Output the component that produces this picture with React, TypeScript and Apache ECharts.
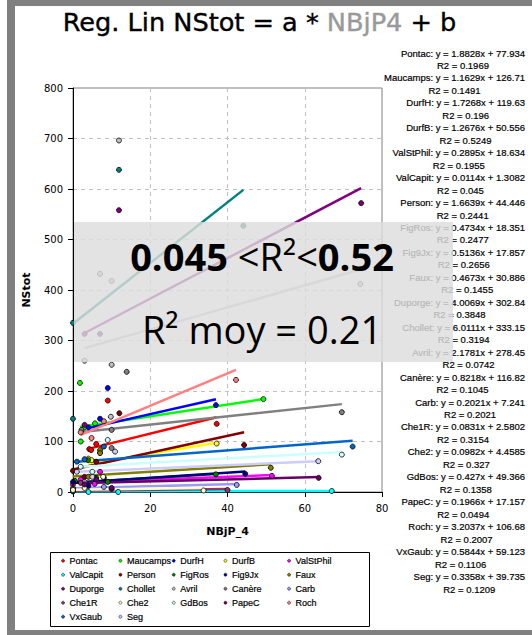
import React, { useEffect, useRef } from "react";
import * as echarts from "echarts";

// ---- data ----
const seriesNames = [
  "Pontac", "Maucamps", "DurfH", "DurfB", "ValStPhil",
  "ValCapit", "Person", "FigRos", "Fig9Jx", "Faux",
  "Duporge", "Chollet", "Avril", "Canère", "Carb",
  "Che1R", "Che2", "GdBos", "PapeC", "Roch",
  "VxGaub", "Seg",
];
const seriesColors = [
  "#ff0000", "#00ff00", "#0000ff", "#ffff00", "#ff00ff",
  "#00ffff", "#800000", "#008000", "#000080", "#808000",
  "#800080", "#008080", "#c0c0c0", "#808080", "#9999ff",
  "#993366", "#ffffcc", "#ccffff", "#660066", "#ff8080",
  "#0066cc", "#ccccff",
];
const slopes = [
  1.8828, 1.1629, 1.7268, 1.2676, 0.2895,
  0.0114, 1.6639, 0.4734, 0.5136, 0.4673,
  4.0069, 6.0111, 2.1781, 0.8218, 0.2021,
  0.0831, 0.0982, 0.427, 0.1966, 3.2037,
  0.5844, 0.3358,
];
const intercepts = [
  77.934, 126.71, 119.63, 50.556, 18.634,
  1.3082, 44.446, 18.351, 17.857, 30.886,
  302.84, 333.15, 278.45, 116.82, 7.241,
  2.5802, 4.4585, 49.366, 17.157, 106.68,
  59.123, 39.735,
];
const r2Values = [
  0.1969, 0.1491, 0.196, 0.5249, 0.1955,
  0.045, 0.2441, 0.2477, 0.2656, 0.1455,
  0.3848, 0.3194, 0.0742, 0.1045, 0.2021,
  0.3154, 0.327, 0.1358, 0.0494, 0.2007,
  0.1106, 0.1209,
];
// NBjP_4 values per series
const pointsX = [
  [4.2, 4.7, 9, 6, 37.2],
  [1.8, 2, 5.7, 3, 49.3],
  [4, 7, 9, 37],
  [4, 4.8, 7, 37.2],
  [0, 2, 5.6, 7, 51.5],
  [0, 4, 11.7, 67],
  [0, 3, 12, 6, 44.3],
  [0.5, 3.9, 6, 9, 37],
  [0, 4, 8, 44.6],
  [0, 7, 7, 4, 51.2],
  [3, 3, 7, 11.9, 74.6],
  [0, 0, 11.9, 44.1],
  [3, 7, 10, 10, 11.9, 9.8, 74.4],
  [2.2, 10, 10, 13.9, 69.6],
  [0, 3, 8, 42.4],
  [0, 2, 10, 40],
  [0, 3, 7.8, 33.8],
  [2, 9, 5, 69.6],
  [3, 10, 6, 63.6],
  [2, 4.8, 8, 42.2],
  [1, 3, 8, 72.4],
  [1, 5, 10.9, 63.5],
];
// NStot values per series
const pointsY = [
  [85, 83, 181, 95, 135],
  [216, 100, 136, 128, 184],
  [128, 145, 206, 172],
  [66, 63, 78, 96],
  [15, 25, 16, 40, 32],
  [1, 0, 0, 2],
  [42, 30, 156, 60, 93],
  [22, 63, 28, 20, 35],
  [20, 12, 28, 36],
  [8, 83, 77, 30, 48],
  [133, 313, 313, 558, 572],
  [145, 335, 638, 527],
  [260, 432, 418, 252, 696, 149, 412],
  [123, 123, 87, 238, 158],
  [6, 20, 10, 14],
  [2, 18, 6, 4],
  [4, 8, 30, 3],
  [50, 103, 40, 74],
  [15, 8, 25, 28],
  [118, 107, 140, 222],
  [60, 65, 90, 90],
  [40, 30, 80, 61],
];
const xTicks = { min: 0, max: 80, interval: 20 };
const yTicks = { min: 0, max: 800, interval: 100 };
const titleMain = "Reg. Lin NStot = a * ";
const titleVar = "NBjP4";
const titleEnd = " + b";
const r2Min = "0.045";
const r2Max = "0.52";
const r2Mean = "0.21";

const EQ_FONT = '"Liberation Sans", Arial, sans-serif';

export default function App() {
  const ref = useRef<HTMLDivElement>(null);

  useEffect(() => {
    if (!ref.current) return;
    const chart = echarts.init(ref.current, null, { renderer: "svg" });

    const canvas = document.createElement("canvas");
    const ctx = canvas.getContext("2d")!;
    ctx.font = `9.5px ${EQ_FONT}`;

    const series: any[] = [];
    seriesNames.forEach((name, i) => {
      const xs = pointsX[i];
      const x0 = Math.min(...xs);
      const x1 = Math.max(...xs);
      series.push({
        type: "line",
        name: name + " (tendance)",
        data: [
          [x0, slopes[i] * x0 + intercepts[i]],
          [x1, slopes[i] * x1 + intercepts[i]],
        ],
        symbol: "none",
        showSymbol: false,
        silent: true,
        lineStyle: { color: seriesColors[i], width: 2.5 },
        itemStyle: { color: seriesColors[i] },
        z: 2,
      });
    });
    seriesNames.forEach((name, i) => {
      series.push({
        type: "scatter",
        name,
        data: pointsX[i].map((x, j) => [x, pointsY[i][j]]),
        symbol: "circle",
        symbolSize: 5,
        itemStyle: { color: seriesColors[i], borderColor: "#000", borderWidth: 0.8, opacity: 1 },
        z: 3,
      });
    });

    const graphics: any[] = [
      // frame
      { type: "rect", shape: { x: 7, y: 0, width: 8, height: 635 }, style: { fill: "#808080" }, z: 0 },
      { type: "rect", shape: { x: 7, y: 0, width: 525, height: 6 }, style: { fill: "#808080" }, z: 0 },
      { type: "rect", shape: { x: 7, y: 630, width: 525, height: 5 }, style: { fill: "#808080" }, z: 0 },
      // title
      {
        type: "text",
        x: 259.5,
        y: 22,
        style: {
          text: `${titleMain}{g|${titleVar}}${titleEnd}`,
          fontFamily: '"DejaVu Sans", sans-serif',
          fontSize: 25.6,
          fill: "#000",
          align: "center",
          verticalAlign: "middle",
          stroke: "#000",
          lineWidth: 0.4,
          rich: {
            g: { fill: "#999999", stroke: "#999999", lineWidth: 0.4, fontFamily: '"DejaVu Sans", sans-serif', fontSize: 25.6 },
          },
        },
        z: 10,
      },
      // legend box
      {
        type: "rect",
        shape: { x: 50.5, y: 552.5, width: 319, height: 74 },
        style: { fill: "none", stroke: "#000", lineWidth: 1 },
        z: 10,
      },
    ];

    seriesNames.forEach((name, i) => {
      const eq = `${name}: y = ${slopes[i]}x + ${intercepts[i]}`;
      const r2 = `R2 = ${r2Values[i]}`;
      const w = ctx.measureText(eq).width;
      graphics.push({
        type: "text",
        x: 525 - w / 2,
        y: 53 + i * 24.93 - 6.23,
        style: {
          text: eq + "\n" + r2,
          fontFamily: EQ_FONT,
          fontSize: 9.5,
          lineHeight: 12.47,
          fill: "#000",
          stroke: "#000",
          lineWidth: 0.2,
          align: "center",
          verticalAlign: "top",
        },
        z: 10,
      });
    });

    // overlay box + texts
    graphics.push({
      type: "rect",
      shape: { x: 74, y: 222, width: 379, height: 140 },
      style: { fill: "rgba(221,221,221,0.82)" },
      z: 100,
    });
    graphics.push({
      type: "text",
      x: 262,
      y: 256,
      style: {
        text: `{b|${r2Min}}{n| <R²<}{b|${r2Max}}`,
        align: "center",
        verticalAlign: "middle",
        fontFamily: '"Open Sans", sans-serif',
        fontSize: 38,
        fill: "#000",
        rich: {
          b: { fontFamily: '"Open Sans", sans-serif', fontSize: 38, fontWeight: "bold", fill: "#000" },
          n: { fontFamily: '"Open Sans", sans-serif', fontSize: 38, fontWeight: "normal", fill: "#000" },
        },
      },
      z: 101,
    });
    graphics.push({
      type: "text",
      x: 262,
      y: 328.5,
      style: {
        text: `R² moy = ${r2Mean}`,
        align: "center",
        verticalAlign: "middle",
        fontFamily: '"Open Sans", sans-serif',
        fontSize: 38,
        fill: "#000",
      },
      z: 101,
    });

    const legendLefts = [61.3, 118.7, 172, 223.7, 287.3];
    const legends = legendLefts.map((left, c) => ({
      orient: "vertical",
      left,
      top: 553.7,
      padding: 0,
      itemGap: 0,
      itemWidth: 3,
      itemHeight: 3,
      icon: "circle",
      selectedMode: false,
      itemStyle: { borderColor: "#000", borderWidth: 0.5 },
      data: seriesNames.filter((_, i) => i % 5 === c),
      textStyle: {
        fontSize: 9,
        fontFamily: EQ_FONT,
        color: "#000",
        lineHeight: 14,
        textBorderColor: "#000",
        textBorderWidth: 0.2,
      },
    }));

    const axisFont = '"DejaVu Sans", sans-serif';
    chart.setOption({
      animation: false,
      backgroundColor: "#fff",
      grid: {
        left: 73,
        right: 150,
        top: 88,
        bottom: 143,
        show: true,
        borderColor: "#808080",
        borderWidth: 1,
        backgroundColor: "transparent",
      },
      xAxis: {
        type: "value",
        min: xTicks.min,
        max: xTicks.max,
        interval: xTicks.interval,
        name: "NBjP_4",
        nameLocation: "middle",
        nameGap: 34,
        nameTextStyle: { fontFamily: axisFont, fontSize: 11, fontWeight: "bold", color: "#000" },
        axisLine: { show: true, onZero: false, lineStyle: { color: "#000", width: 1 } },
        axisTick: { show: true, length: 5, lineStyle: { color: "#000" } },
        axisLabel: { fontFamily: axisFont, fontSize: 10, color: "#000", margin: 11 },
        splitLine: { show: true, lineStyle: { color: "#c0c0c0", type: [4, 4], width: 1 } },
      },
      yAxis: {
        type: "value",
        min: yTicks.min,
        max: yTicks.max,
        interval: yTicks.interval,
        name: "NStot",
        nameLocation: "middle",
        nameGap: 41,
        nameTextStyle: { fontFamily: axisFont, fontSize: 11, fontWeight: "bold", color: "#000" },
        axisLine: { show: true, onZero: false, lineStyle: { color: "#000", width: 1 } },
        axisTick: { show: true, length: 5, lineStyle: { color: "#000" } },
        axisLabel: { fontFamily: axisFont, fontSize: 10, color: "#000", margin: 10 },
        splitLine: { show: true, lineStyle: { color: "#c0c0c0", type: [4, 4], width: 1 } },
      },
      legend: legends,
      series,
      graphic: graphics,
    });

    return () => chart.dispose();
  }, []);

  return (
    <div
      ref={ref}
      style={{ position: "absolute", left: 0, top: 0, width: 532, height: 635, background: "#fff" }}
    />
  );
}
